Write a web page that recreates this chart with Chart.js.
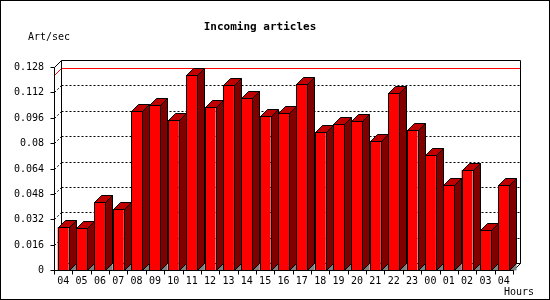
<!DOCTYPE html>
<html>
<head>
<meta charset="utf-8">
<script src="https://cdn.jsdelivr.net/npm/chart.js@4"></script>
<style>
  html, body { margin: 0; padding: 0; background: #fff; }
  #wrap { width: 550px; height: 300px; }
</style>
</head>
<body>
<div id="wrap"><canvas id="myChart" width="550" height="300"></canvas></div>
<script>
const hours = ["04", "05", "06", "07", "08", "09", "10", "11", "12", "13", "14", "15", "16",
  "17", "18", "19", "20", "21", "22", "23", "00", "01", "02", "03", "04"];
const artPerSec = [0.0269, 0.0263, 0.0427, 0.0383, 0.1003, 0.1038, 0.0944, 0.1229, 0.1026,
  0.1165, 0.1083, 0.0969, 0.0988, 0.1171, 0.0868, 0.0919, 0.0938, 0.0811, 0.1114, 0.0881,
  0.0723, 0.0538, 0.0629, 0.0250, 0.0534];
const yTicks = [0, 0.016, 0.032, 0.048, 0.064, 0.08, 0.096, 0.112, 0.128];

const DEPTH = 7; // 3d offset in px
const MONO = "'DejaVu Sans Mono', 'Liberation Mono', monospace";

function line(ctx, x1, y1, x2, y2) {
  ctx.beginPath();
  ctx.moveTo(x1, y1);
  ctx.lineTo(x2, y2);
  ctx.stroke();
}

const box3d = {
  id: "box3d",
  beforeDatasetsDraw(chart) {
    const ctx = chart.ctx;
    const a = chart.chartArea;
    const y = chart.scales.y;
    const L = Math.round(a.left) + 0.5, R = Math.round(a.right) + 0.5;
    const T = Math.round(a.top) + 0.5, B = Math.round(a.bottom) + 0.5;
    ctx.save();
    ctx.lineWidth = 1;

    // dotted gridlines on back wall
    ctx.strokeStyle = "#000";
    ctx.setLineDash([2, 2]);
    yTicks.forEach(v => {
      if (v === 0 || v === 0.128) return;
      const py = Math.round(y.getPixelForValue(v)) + 0.5;
      line(ctx, L + DEPTH, py - DEPTH, R + DEPTH, py - DEPTH);
      line(ctx, L, py, L + DEPTH, py - DEPTH);
    });
    ctx.setLineDash([]);

    // max line
    const mx = Math.max(...artPerSec);
    const my = Math.round(y.getPixelForValue(mx)) + 0.5;
    ctx.strokeStyle = "#ff0000";
    line(ctx, L + DEPTH, my - DEPTH, R + DEPTH, my - DEPTH);
    line(ctx, L, my, L + DEPTH, my - DEPTH);

    // box edges
    ctx.strokeStyle = "#000";
    line(ctx, L + DEPTH, T - DEPTH, R + DEPTH, T - DEPTH);
    line(ctx, R + DEPTH, T - DEPTH, R + DEPTH, B - DEPTH);
    line(ctx, L + DEPTH, T - DEPTH, L + DEPTH, B - DEPTH);
    line(ctx, L + DEPTH, B - DEPTH, R + DEPTH, B - DEPTH);
    line(ctx, L, T, L + DEPTH, T - DEPTH);
    line(ctx, R, B, R + DEPTH, B - DEPTH);
    ctx.restore();
  },
  afterDatasetsDraw(chart) {
    const ctx = chart.ctx;
    const a = chart.chartArea;
    const x = chart.scales.x;
    const y = chart.scales.y;
    const meta = chart.getDatasetMeta(0);
    ctx.save();
    ctx.lineWidth = 1;
    ctx.strokeStyle = "#000";

    meta.data.forEach(bar => {
      const l = Math.round(bar.x - bar.width / 2) + 0.5;
      const r = Math.round(bar.x + bar.width / 2) + 0.5;
      const t = Math.round(bar.y) + 0.5;
      const b = Math.round(bar.base) + 0.5;
      // floor shadow
      ctx.fillStyle = "#808080";
      ctx.beginPath();
      ctx.moveTo(r, b); ctx.lineTo(r + DEPTH, b - DEPTH); ctx.lineTo(r + DEPTH, b);
      ctx.closePath(); ctx.fill();
      // side
      ctx.fillStyle = "#800000";
      ctx.beginPath();
      ctx.moveTo(r, t); ctx.lineTo(r + DEPTH, t - DEPTH);
      ctx.lineTo(r + DEPTH, b - DEPTH); ctx.lineTo(r, b);
      ctx.closePath(); ctx.fill(); ctx.stroke();
      // top
      ctx.fillStyle = "#c00000";
      ctx.beginPath();
      ctx.moveTo(l, t); ctx.lineTo(l + DEPTH, t - DEPTH);
      ctx.lineTo(r + DEPTH, t - DEPTH); ctx.lineTo(r, t);
      ctx.closePath(); ctx.fill(); ctx.stroke();
      // front outline
      ctx.strokeRect(l, t, r - l, b - t);
    });

    const L = Math.round(a.left) + 0.5, R = Math.round(a.right) + 0.5;
    const T = Math.round(a.top) + 0.5, B = Math.round(a.bottom) + 0.5;

    // front axes
    line(ctx, L, T, L, B);
    line(ctx, L, B, R, B);

    // y ticks + labels
    ctx.fillStyle = "#000";
    ctx.font = "10px " + MONO;
    ctx.textAlign = "right";
    ctx.textBaseline = "middle";
    yTicks.forEach(v => {
      const py = Math.round(y.getPixelForValue(v)) + 0.5;
      line(ctx, L - 4, py, L, py);
      ctx.fillText(String(v), 44, py);
    });

    // x ticks + labels
    ctx.textAlign = "center";
    const step = (a.right - a.left) / hours.length;
    for (let i = 0; i <= hours.length; i++) {
      const px = Math.round(a.left + i * step) + 0.5;
      line(ctx, px, B, px, B + 4);
    }
    hours.forEach((h, i) => {
      ctx.fillText(h, x.getPixelForValue(i), 281);
    });

    // titles
    ctx.textAlign = "left";
    ctx.fillText("Art/sec", 28, 37);
    ctx.fillText("Hours", 504, 292);
    ctx.textAlign = "center";
    ctx.font = "bold 11px " + MONO;
    ctx.fillText("Incoming articles", 260, 27);

    // outer frame
    ctx.strokeRect(0.5, 0.5, 549, 299);
    ctx.restore();
  }
};

new Chart(document.getElementById("myChart"), {
  type: "bar",
  data: {
    labels: hours,
    datasets: [
      {
        label: "Art/sec",
        data: artPerSec,
        backgroundColor: "#ff0000",
        borderWidth: 0,
        barPercentage: 0.6,
        categoryPercentage: 1.0,
      },
    ],
  },
  options: {
    responsive: false,
    animation: false,
    events: [],
    layout: { padding: { left: 54, right: 37, top: 67, bottom: 30 } },
    plugins: { legend: { display: false }, title: { display: false }, tooltip: { enabled: false } },
    scales: {
      x: { display: false },
      y: { display: false, min: 0, max: 0.128 },
    },
  },
  plugins: [box3d],
});
</script>
</body>
</html>
